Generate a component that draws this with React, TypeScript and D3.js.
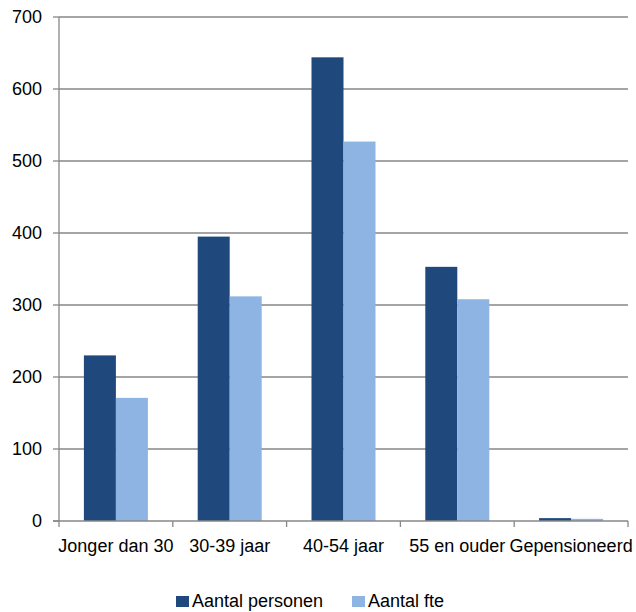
import React from "react";
import * as d3 from "d3";

const categories = ["Jonger dan 30", "30-39 jaar", "40-54 jaar", "55 en ouder", "Gepensioneerd"];
const personen = [230, 395, 644, 353, 4];
const fte = [171, 312, 527, 308, 3];
const yTicks = [0, 100, 200, 300, 400, 500, 600, 700];
const seriesNames = ["Aantal personen", "Aantal fte"];
const colors = ["#1F497D", "#8EB4E3"];

const W = 636;
const H = 612;
const left = 59;
const right = 628;
const top = 17;
const bottom = 521;
const font = "'Liberation Sans', Arial, sans-serif";
const fs = 18;

export default function App() {
  const x = d3.scaleBand<string>().domain(categories).range([left, right]).paddingInner(0).paddingOuter(0);
  const y = d3.scaleLinear().domain([0, 700]).range([bottom, top]);
  const inner = d3.scaleBand<number>().domain([0, 1]).range([0, x.bandwidth()]).paddingInner(0).paddingOuter(0.778);
  const series = [personen, fte];
  const axisColor = "#878787";
  return (
    <svg width={W} height={H} style={{ position: "absolute", left: 0, top: 0, background: "#fff" }} fontFamily={font}>
      {yTicks.map((t) => (
        <g key={t}>
          {t > 0 && <line x1={left} x2={right} y1={y(t)} y2={y(t)} stroke={axisColor} strokeWidth={1.3} />}
          <line x1={left - 6} x2={left} y1={y(t)} y2={y(t)} stroke={axisColor} strokeWidth={1.3} />
          <text x={42} y={y(t)} dy="0.35em" textAnchor="end" fontSize={fs} fill="#000">
            {t}
          </text>
        </g>
      ))}
      {series.map((vals, si) =>
        categories.map((c, ci) => (
          <rect
            key={`${si}-${ci}`}
            x={(x(c) as number) + (inner(si) as number)}
            y={y(vals[ci])}
            width={inner.bandwidth()}
            height={bottom - y(vals[ci])}
            fill={colors[si]}
          />
        ))
      )}
      <line x1={left} x2={left} y1={top} y2={bottom} stroke={axisColor} strokeWidth={1.3} />
      <line x1={left - 6} x2={right} y1={bottom} y2={bottom} stroke={axisColor} strokeWidth={1.3} />
      {[...categories.map((c) => x(c) as number), right].map((px, i) => (
        <line key={i} x1={px} x2={px} y1={bottom} y2={bottom + 6} stroke={axisColor} strokeWidth={1.3} />
      ))}
      {categories.map((c) => (
        <text key={c} x={(x(c) as number) + x.bandwidth() / 2} y={552} textAnchor="middle" fontSize={fs} fill="#000">
          {c}
        </text>
      ))}
      {seriesNames.map((n, i) => {
        const lx = i === 0 ? 176 : 352;
        return (
          <g key={n}>
            <rect x={lx} y={596} width={13} height={11} fill={colors[i]} />
            <text x={lx + 16} y={607} fontSize={fs} fill="#000">
              {n}
            </text>
          </g>
        );
      })}
    </svg>
  );
}
